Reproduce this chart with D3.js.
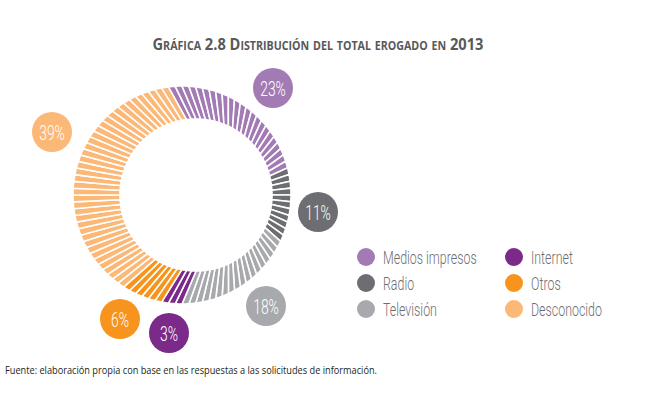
<!DOCTYPE html>
<html>
<head>
<meta charset="utf-8">
<script src="https://cdnjs.cloudflare.com/ajax/libs/d3/7.8.5/d3.min.js"></script>
<style>
	body { margin: 0; background: #fff; }
	svg { display: block; }
</style>
</head>
<body>
<div id="chart"></div>
<script>
// Data
var categories = ["Medios impresos", "Radio", "Televisión", "Internet", "Otros", "Desconocido"];
var values = [23, 11, 18, 3, 6, 39];
var labels = ["23%", "11%", "18%", "3%", "6%", "39%"];
var colors = ["#a27bb5", "#6d6e71", "#a7a9ac", "#7b2a8a", "#f7941d", "#fbb877"];

// Where each percentage bubble sits
var bubblePos = [[273, 88], [318, 212], [266, 306], [169, 333], [120, 319], [52, 132]];

var width = 648, height = 399;
var narrowFont = "'Roboto', 'DejaVu Sans', sans-serif";

var svg = d3.select("#chart")
			.append("svg")
				.attr("width", width)
				.attr("height", height);

// squeeze a text horizontally, no condensed font installed
function condense(sel, f) {
	sel.each(function() {
		var len = this.getComputedTextLength();
		d3.select(this)
			.attr("textLength", len * f)
			.attr("lengthAdjust", "spacingAndGlyphs");
	});
}

// Title (small caps)
svg.append("text")
		.attr("x", 318)
		.attr("y", 50)
		.attr("text-anchor", "middle")
		.style("font-family", "'Open Sans', 'DejaVu Sans', sans-serif")
		.style("font-weight", "bold")
		.style("font-variant", "small-caps")
		.style("font-size", "16.5px")
		.style("fill", "#58595b")
		.attr("textLength", 331)
		.attr("lengthAdjust", "spacingAndGlyphs")
		.text("Gráfica 2.8 Distribución del total erogado en 2013");

// ------------------------------------------------------------------------
//		Ring: one thin segment per percent, hole slightly off-centre
// ------------------------------------------------------------------------
var outer = {x: 182, y: 195, r: 109};
var inner = {x: 196, y: 195, r: 76};
var total = d3.sum(values);

var angle = d3.scaleLinear()
				.domain([0, total])
				.range([-0.126, 2 * Math.PI - 0.126]);

var units = [];
var acc = 0;
for (var i = 0; i < values.length; i++) {
	for (var j = 0; j < values[i]; j++) {
		units.push({idx: i, start: acc, end: acc + 1});
		acc += 1;
	}
}

function ptOn(c, a) { return [c.x + c.r * Math.sin(a), c.y - c.r * Math.cos(a)]; }

var segLine = d3.line().curve(d3.curveLinearClosed);
function segPath(d) {
	var a0 = angle(d.start), a1 = angle(d.end);
	var pts = [];
	for (var k = 0; k <= 4; k++) pts.push(ptOn(outer, a0 + (a1 - a0) * k / 4));
	for (var k = 4; k >= 0; k--) pts.push(ptOn(inner, a0 + (a1 - a0) * k / 4));
	return segLine(pts);
}

svg.append("g")
	.selectAll("path")
	.data(units)
		.enter()
		.append("path")
			.attr("d", segPath)
			.attr("fill", function(d) { return colors[d.idx]; })
			.attr("stroke", "#fff")
			.attr("stroke-width", 1.6);

// Percentage bubbles
var bubbles = svg.append("g")
				.selectAll("g")
				.data(values)
					.enter()
					.append("g")
						.attr("transform", function(d, i) {
							return "translate(" + bubblePos[i][0] + "," + bubblePos[i][1] + ")";
						});
bubbles.append("circle")
		.attr("r", 20)
		.attr("fill", function(d, i) { return colors[i]; });
bubbles.append("text")
		.attr("y", 7.5)
		.attr("text-anchor", "middle")
		.style("font-family", narrowFont)
		.style("font-weight", 300)
		.style("font-size", "21px")
		.style("fill", "#fff")
		.text(function(d, i) { return labels[i]; })
		.call(condense, 0.66);

// ------------------------------------------------------------------------
//		Legend
// ------------------------------------------------------------------------
var legend = svg.append("g")
				.selectAll("g")
				.data(categories)
					.enter()
					.append("g")
						.attr("transform", function(d, i) {
							// Internet / Otros / Desconocido sit in the second column
							var col = i < 3 ? 0 : 1;
							var row = i % 3;
							return "translate(" + (366 + col * 148) + "," + (257 + row * 26) + ")";
						});
legend.append("circle")
		.attr("r", 9)
		.attr("fill", function(d, i) { return colors[i]; });
legend.append("text")
		.attr("x", 17)
		.attr("y", 6.5)
		.style("font-family", narrowFont)
		.style("font-weight", 300)
		.style("font-size", "18.5px")
		.style("fill", "#6d6e71")
		.text(function(d) { return d; })
		.call(condense, 0.67);

// Source note
svg.append("text")
		.attr("x", 5)
		.attr("y", 374)
		.style("font-family", "'Open Sans', 'DejaVu Sans', sans-serif")
		.style("font-size", "10.5px")
		.style("fill", "#231f20")
		.attr("textLength", 372)
		.attr("lengthAdjust", "spacingAndGlyphs")
		.text("Fuente: elaboración propia con base en las respuestas a las solicitudes de información.");
</script>
</body>
</html>
